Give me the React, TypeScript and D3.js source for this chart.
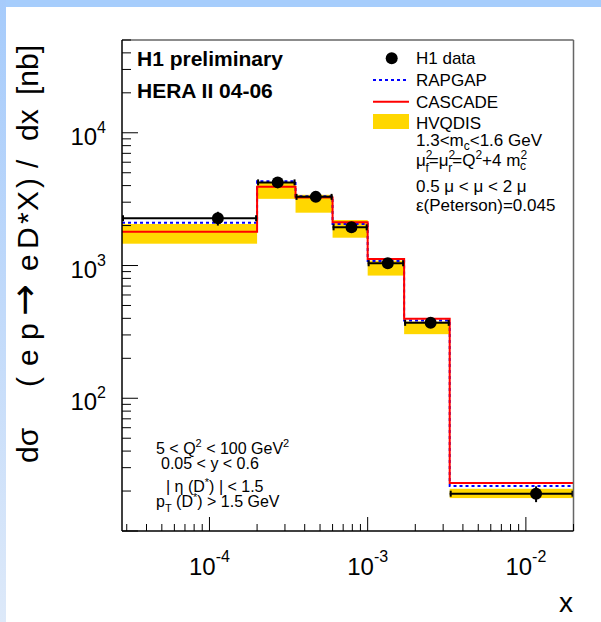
import React from 'react';
import * as d3 from 'd3';

// bin edges in x, and the measured cross sections per bin
const xEdges = [2.8e-5, 2.0e-4, 3.5e-4, 6.0e-4, 1.0e-3, 1.7e-3, 3.3e-3, 2.0e-2];
const xCenters = [1.13e-4, 2.7e-4, 4.7e-4, 7.9e-4, 1.34e-3, 2.5e-3, 1.16e-2];
const h1Data = [2270, 4230, 3290, 1940, 1040, 370, 19.1];
const h1Err = [270, 330, 260, 150, 75, 30, 2.6];
const rapgap = [2100, 4320, 3330, 2055, 1080, 385, 21.8];
const cascade = [1800, 3920, 3260, 2120, 1120, 398, 23.0];
const hvqdisHigh = [2055, 4260, 3410, 2200, 1090, 378, 20.8];
const hvqdisLow = [1460, 3180, 2500, 1620, 840, 304, 17.7];

const xLabelExps = ['-4', '-3', '-2'];
const yLabelExps = ['2', '3', '4'];
const legendLabels = ['H1 data', 'RAPGAP', 'CASCADE', 'HVQDIS'];

const W = 601;
const H = 622;
const FONT = 'Liberation Sans, Arial, Helvetica, sans-serif';

const x = d3.scaleLog().domain([2.8e-5, 2.0e-2]).range([122, 573.5]);
const y = d3.scaleLog().domain([10, 5e4]).range([531, 40]);

const isMajor = (v: number) => Math.abs(Math.log10(v) - Math.round(Math.log10(v))) < 1e-6;

const stepLine = (vals: number[]) => {
  const pts: [number, number][] = vals.map((v, i) => [xEdges[i], v]);
  pts.push([xEdges[xEdges.length - 1], vals[vals.length - 1]]);
  return d3.line<[number, number]>()
    .x(d => x(d[0]))
    .y(d => y(d[1]))
    .curve(d3.curveStepAfter)(pts) as string;
};

// y title pieces and where each one starts (screen y, text runs upward)
const yTitle: [string, number][] = [
  ['dσ', 463], ['(', 387], ['e', 366], ['p', 340], ['e', 271], ['D', 249],
  ['*', 224], ['X', 211], [')', 188], ['/', 168], ['dx', 141], ['[nb]', 95],
];

export default function App() {
  const xTicks = x.ticks();
  const yTicks = y.ticks();
  const lx = 373;
  const lw = 36;
  const legY = [58.3, 80, 101.7, 123.3];

  return (
    <svg width={W} height={H} style={{ position: 'absolute', left: 0, top: 0 }}
      fontFamily={FONT}>
      <defs>
        <linearGradient id="side" x1="0" y1="0" x2="0" y2="1">
          <stop offset="0" stopColor="#a6cbfb" />
          <stop offset="1" stopColor="#dde9f9" />
        </linearGradient>
      </defs>
      <rect width={W} height={H} fill="#fff" />
      <rect x={0} y={0} width={W} height={7} fill="#a6cdfc" />
      <rect x={0} y={0} width={6} height={H} fill="url(#side)" />

      {/* HVQDIS band */}
      {hvqdisHigh.map((hi, i) => (
        <rect key={'b' + i} x={x(xEdges[i])} width={x(xEdges[i + 1]) - x(xEdges[i])}
          y={y(hi)} height={y(hvqdisLow[i]) - y(hi)} fill="#ffd700" />
      ))}

      <path d={stepLine(rapgap)} fill="none" stroke="#0000ff" strokeWidth={2} strokeDasharray="3,3" />
      <path d={stepLine(cascade)} fill="none" stroke="#ff0000" strokeWidth={2} />

      {/* H1 data */}
      {h1Data.map((v, i) => {
        const x0 = x(xEdges[i]), x1 = x(xEdges[i + 1]), yy = y(v);
        return (
          <g key={'d' + i} stroke="#000" strokeWidth={2}>
            <line x1={x0} x2={x1} y1={yy} y2={yy} />
            <line x1={x0 + 1} x2={x0 + 1} y1={yy - 3} y2={yy + 3} />
            <line x1={x1 - 1} x2={x1 - 1} y1={yy - 3} y2={yy + 3} />
            <line x1={x(xCenters[i])} x2={x(xCenters[i])} y1={y(v + h1Err[i])} y2={y(v - h1Err[i])} />
            <circle cx={x(xCenters[i])} cy={yy} r={6} fill="#000" stroke="none" />
          </g>
        );
      })}

      {/* frame */}
      <line x1={122} x2={573.5} y1={40} y2={40} stroke="#666" strokeWidth={1.5} />
      <line x1={573.5} x2={573.5} y1={40} y2={531} stroke="#666" strokeWidth={1.5} />
      <line x1={122} x2={122} y1={40} y2={531} stroke="#000" strokeWidth={1.5} />
      <line x1={122} x2={573.5} y1={531} y2={531} stroke="#000" strokeWidth={1.5} />

      {xTicks.map((t, i) => (
        <line key={'xt' + i} x1={x(t)} x2={x(t)} y1={531} y2={531 - (isMajor(t) ? 14 : 7)}
          stroke="#000" strokeWidth={1} />
      ))}
      {yTicks.map((t, i) => (
        <line key={'yt' + i} x1={122} x2={122 + (isMajor(t) ? 16 : 9)} y1={y(t)} y2={y(t)}
          stroke="#000" strokeWidth={1} />
      ))}

      {xLabelExps.map(e => (
        <text key={'xl' + e} x={x(Math.pow(10, +e))} y={575} textAnchor="middle" fontSize={24}>
          10<tspan dy={-13} fontSize={16}>{e}</tspan>
        </text>
      ))}
      {yLabelExps.map(e => (
        <text key={'yl' + e} x={106} y={y(Math.pow(10, +e)) + 12} textAnchor="end" fontSize={24}>
          10<tspan dy={-12} fontSize={16}>{e}</tspan>
        </text>
      ))}

      <text x={573} y={612} textAnchor="end" fontSize={28}>x</text>
      <text transform="translate(38,0) rotate(-90)" fontSize={30}>
        {yTitle.map(([s, p]) => (
          <tspan key={s + p} x={-p} y={0}>{s}</tspan>
        ))}
        <tspan x={-316} y={-1} fontFamily="DejaVu Sans" fontSize={38}>→</tspan>
      </text>

      <text x={137} y={65.5} fontSize={21} fontWeight="bold">H1 preliminary</text>
      <text x={137} y={97.5} fontSize={21} fontWeight="bold">HERA II 04-06</text>

      {/* legend */}
      <circle cx={391.7} cy={legY[0]} r={6} fill="#000" />
      <line x1={lx} x2={lx + lw} y1={legY[1]} y2={legY[1]} stroke="#0000ff" strokeWidth={2} strokeDasharray="3,3" />
      <line x1={lx} x2={lx + lw} y1={legY[2]} y2={legY[2]} stroke="#ff0000" strokeWidth={2} />
      <rect x={lx} y={114} width={lw} height={15} fill="#ffd700" />
      {legendLabels.map((l, i) => (
        <text key={l} x={416} y={legY[i] + 6} fontSize={17}>{l}</text>
      ))}

      <g fontSize={17}>
        <text x={416} y={146}>1.3&lt;m<tspan dy={4} fontSize={12}>c</tspan><tspan dy={-4}>&lt;1.6 GeV</tspan></text>
        <text x={416} y={166}>
          μ<tspan dy={-7} fontSize={12}>2</tspan><tspan dx={-7} dy={13} fontSize={12}>f</tspan>
          <tspan dy={-6}>=μ</tspan><tspan dy={-7} fontSize={12}>2</tspan><tspan dx={-7} dy={13} fontSize={12}>r</tspan>
          <tspan dy={-6}>=Q</tspan><tspan dy={-7} fontSize={12}>2</tspan>
          <tspan dy={7}>+4 m</tspan><tspan dy={-7} fontSize={12}>2</tspan><tspan dx={-7} dy={11} fontSize={12}>c</tspan>
        </text>
        <text x={416} y={192}>0.5 μ &lt; μ &lt; 2 μ</text>
        <text x={416} y={211}>ε(Peterson)=0.045</text>
      </g>

      <g fontSize={16}>
        <text x={156} y={454}>5 &lt; Q<tspan dy={-7} fontSize={11}>2</tspan><tspan dy={7}> &lt; 100 GeV</tspan><tspan dy={-7} fontSize={11}>2</tspan></text>
        <text x={161} y={469}>0.05 &lt; y &lt; 0.6</text>
        <text x={166} y={492}>| η (D<tspan dy={-6} fontSize={11}>*</tspan><tspan dy={6}>) | &lt; 1.5</tspan></text>
        <text x={156} y={507}>p<tspan dy={5} fontSize={11}>T</tspan><tspan dy={-5}> (D</tspan><tspan dy={-6} fontSize={11}>*</tspan><tspan dy={6}>) &gt; 1.5 GeV</tspan></text>
      </g>
    </svg>
  );
}
